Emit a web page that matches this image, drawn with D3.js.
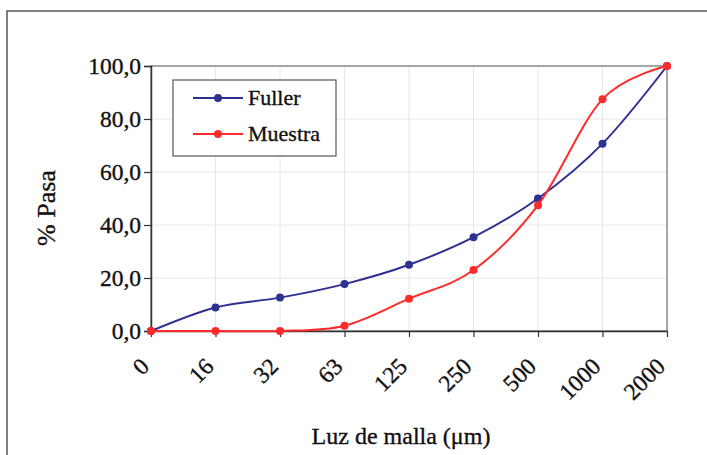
<!DOCTYPE html>
<html><head><meta charset="utf-8">
<script src="https://cdn.jsdelivr.net/npm/d3@7"></script>
<style>
body{margin:0;background:#fff;}
text{font-family:"Liberation Serif","Times New Roman",serif;fill:#111;stroke:#111;stroke-width:0.35px;}
</style></head>
<body><svg id="c" width="707" height="455"></svg>
<script>
const categories = ["0","16","32","63","125","250","500","1000","2000"];
const fuller = [0, 8.9, 12.6, 17.7, 25.0, 35.4, 50.0, 70.7, 100];
const muestra = [0, 0, 0, 2.0, 12.2, 23.0, 47.5, 87.5, 100];
const yTicks = [0, 20, 40, 60, 80, 100];
const seriesNames = ["Fuller", "Muestra"];
const seriesColors = ["#2e3192", "#ff2a2a"];

const svg = d3.select("#c");
const m = {left:151, top:66, right:667, bottom:331};

// outer frame (cut off at right/bottom)
svg.append("path").attr("d", `M7,460 L7,11 L712,11`).attr("fill","none")
  .attr("stroke","#555").attr("stroke-width",1.5);

const x = d3.scalePoint().domain(categories).range([m.left, m.right]);
const y = d3.scaleLinear().domain([0,100]).range([m.bottom, m.top]);

// gridlines
const g = svg.append("g");
g.selectAll(".hg").data(yTicks.slice(1,-1)).join("line")
  .attr("x1",m.left).attr("x2",m.right).attr("y1",d=>y(d)).attr("y2",d=>y(d))
  .attr("stroke","#e6e6e6").attr("stroke-width",1);
g.selectAll(".vg").data(categories.slice(1,-1)).join("line")
  .attr("x1",d=>x(d)).attr("x2",d=>x(d)).attr("y1",m.top).attr("y2",m.bottom)
  .attr("stroke","#e6e6e6").attr("stroke-width",1);

// plot border
svg.append("rect").attr("x",m.left).attr("y",m.top).attr("width",m.right-m.left).attr("height",m.bottom-m.top)
  .attr("fill","none").attr("stroke","#888").attr("stroke-width",1.5);

// axes
const fmt = d => d.toFixed(1).replace(".", ",");
const yAxis = svg.append("g").attr("transform",`translate(${m.left},0)`)
  .call(d3.axisLeft(y).tickValues(yTicks).tickFormat(fmt).tickSize(7).tickPadding(3));
yAxis.select(".domain").attr("stroke","#333").attr("stroke-width",1.5);
yAxis.selectAll(".tick line").attr("stroke","#333").attr("stroke-width",1.2);
yAxis.selectAll("text").attr("font-size",23.5).attr("font-family","Liberation Serif").attr("fill","#111");

const xAxis = svg.append("g").attr("transform",`translate(0,${m.bottom})`)
  .call(d3.axisBottom(x).tickSize(6).tickSizeOuter(0));
xAxis.select(".domain").attr("stroke","#333").attr("stroke-width",1.5);
xAxis.selectAll(".tick line").attr("stroke","#333").attr("stroke-width",1.2);
xAxis.selectAll("text").attr("font-size",23.5).attr("font-family","Liberation Serif").attr("fill","#111")
  .attr("text-anchor","end").attr("dy",0).attr("y",0)
  .attr("transform","translate(-1,37) rotate(-45)");

// lines
const line = d3.line().x((d,i)=>x(categories[i])).y(d=>y(d)).curve(d3.curveCatmullRom.alpha(0));
[fuller, muestra].forEach((s,k)=>{
  svg.append("path").datum(s).attr("d",line).attr("fill","none")
    .attr("stroke",seriesColors[k]).attr("stroke-width",2);
  svg.selectAll(".pt"+k).data(s).join("circle")
    .attr("cx",(d,i)=>x(categories[i])).attr("cy",d=>y(d)).attr("r",4)
    .attr("fill",seriesColors[k]);
});

// legend
const lg = svg.append("g");
lg.append("rect").attr("x",173).attr("y",80).attr("width",163).attr("height",76)
  .attr("fill","#fff").attr("stroke","#555").attr("stroke-width",1.2);
seriesNames.forEach((n,k)=>{
  const yy = 98 + k*36;
  lg.append("line").attr("x1",193).attr("x2",243).attr("y1",yy).attr("y2",yy)
    .attr("stroke",seriesColors[k]).attr("stroke-width",2);
  lg.append("circle").attr("cx",218).attr("cy",yy).attr("r",4).attr("fill",seriesColors[k]);
  lg.append("text").attr("x",248).attr("y",yy+7).attr("font-size",22).text(n);
});

// axis titles
svg.append("text").attr("x",401).attr("y",444).attr("text-anchor","middle").attr("font-size",24)
  .text("Luz de malla (μm)");
svg.append("text").attr("transform","translate(55,208) rotate(-90)").attr("text-anchor","middle")
  .attr("font-size",26).text("% Pasa");
</script></body></html>
